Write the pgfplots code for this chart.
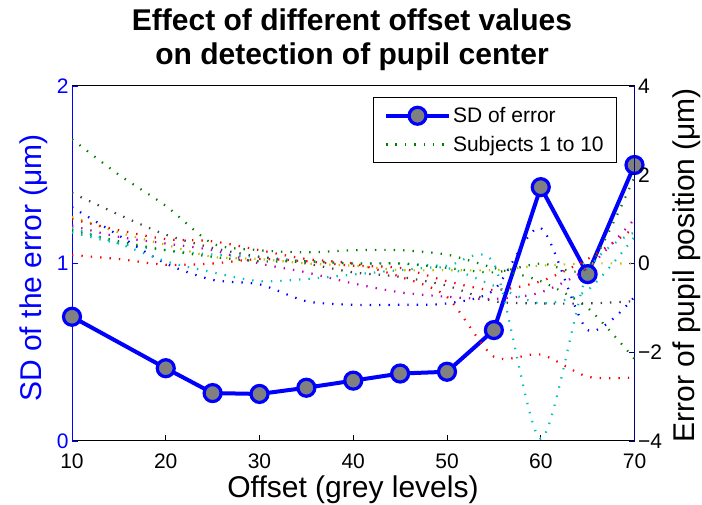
\documentclass[border=0pt]{standalone}
\usepackage{fontspec}
\setmainfont{Liberation Sans}
\usepackage{pgfplots}
\pgfplotsset{compat=1.18}

\definecolor{mgreen}{rgb}{0,0.5,0}
\definecolor{mred}{rgb}{1,0,0}
\definecolor{mcyan}{rgb}{0,0.75,0.75}
\definecolor{mmag}{rgb}{0.75,0,0.75}
\definecolor{myel}{rgb}{0.75,0.75,0}
\definecolor{mgrey}{rgb}{0.25,0.25,0.25}
\definecolor{navy}{rgb}{0,0,0.5}

\newcommand\tickfont{\fontsize{21}{25}\selectfont}
\newcommand\labfont{\fontsize{30}{36}\selectfont}
\newcommand\titfont{\fontsize{30}{36}\selectfont\bfseries}

\pgfplotsset{
  subj/.style={#1, line width=2.2pt, dash pattern=on 1.4pt off 8pt, smooth, tension=0.45, mark=none},
  sdstyle/.style={blue, line width=4pt, mark=*, mark size=8.5pt,
    mark options={fill=gray, draw=blue, line width=3.2pt, solid}},
}

\begin{document}
\begin{tikzpicture}[x=1pt,y=1pt]
\path[use as bounding box] (0,0) rectangle (702,505);

% left axis: SD of error
\begin{axis}[
  at={(72pt,64pt)}, anchor=south west,
  scale only axis, width=562.5pt, height=355pt,
  xmin=10, xmax=70, ymin=0, ymax=2,
  xtick={10,20,...,70}, ytick={0,1,2},
  tick align=inside, xtick pos=left, ytick pos=left,
  major tick length=6pt,
  separate axis lines,
  x axis line style={black, line width=1pt},
  y axis line style={blue, line width=1pt},
  x tick style={black, line width=0.8pt},
  y tick style={blue, line width=0.8pt},
  /pgf/number format/assume math mode=true,
  xticklabel style={font=\tickfont, yshift=-9pt},
  yticklabel style={font=\tickfont, text=blue},
  clip=false,
]
\addplot[sdstyle] coordinates {
  (10,0.70) (20,0.41) (25,0.27) (30,0.265) (35,0.30) (40,0.34)
  (45,0.38) (50,0.39) (55,0.625) (60,1.43) (65,0.94) (70,1.555)
};
\end{axis}

% right axis: error of pupil position, subjects
\begin{axis}[
  at={(72pt,64pt)}, anchor=south west,
  scale only axis, width=562.5pt, height=355pt,
  xmin=10, xmax=70, ymin=-4, ymax=4,
  axis x line=none, axis y line*=right,
  y axis line style={navy, line width=1pt, -},
  y tick style={navy, line width=0.8pt},
  tick align=inside, major tick length=6pt,
  ytick={-4,-2,0,2,4}, yticklabels={−4,−2,0,2,4},
  yticklabel style={font=\tickfont, text=black},
  legend image code/.code={\draw[mark repeat=2,mark phase=2,#1] plot coordinates {(0pt,0pt) (31.5pt,0pt) (63pt,0pt)};},
  legend style={at={(0.969,0.969)}, anchor=north east, draw=black, line width=0.8pt, fill=white,
    font=\tickfont, inner xsep=11pt, inner ysep=8pt, row sep=8pt,
    /tikz/every even column/.append style={column sep=7pt}},
  legend cell align=left,
]
\addlegendimage{sdstyle}
\addlegendentry{SD of error}
\addplot[subj=mgreen] coordinates {(10,2.8) (15,2.0) (20,1.3) (25,0.45) (30,0.3) (35,0.25) (40,0.3) (45,0.3) (50,0.2) (55,-0.1) (60,-0.4) (65,-1.0) (70,-2.15)};
\addlegendentry{Subjects 1 to 10}
\addplot[subj=mred, forget plot] coordinates {(10,0.19) (15,0.1) (20,-0.03) (25,0.0) (30,0.1) (35,0.05) (40,-0.05) (45,-0.1) (50,-0.4) (55,-0.6) (60,-0.4) (65,0.1) (70,0.8)};
\addplot[subj=mcyan, forget plot] coordinates {(10,0.7) (15,0.45) (20,0.3) (25,0.2) (30,0.15) (35,0.05) (40,0.0) (45,0.0) (50,-0.05) (55,0.0) (60,-3.95) (65,-0.2) (70,0.7)};
\addplot[subj=mmag, forget plot] coordinates {(10,0.85) (15,0.6) (20,0.45) (25,0.3) (30,0.0) (35,-0.2) (40,-0.45) (45,-0.65) (50,-0.75) (55,-0.8) (60,-0.65) (65,-0.1) (70,1.0)};
\addplot[subj=myel, forget plot] coordinates {(10,1.05) (15,0.7) (20,0.42) (25,0.15) (30,0.1) (35,0.0) (40,-0.05) (45,-0.15) (50,-0.15) (55,-0.15) (60,-0.05) (65,0.0) (70,0.0)};
\addplot[subj=mgrey, forget plot] coordinates {(10,1.59) (15,1.1) (20,0.65) (25,0.35) (30,0.15) (35,0.0) (40,-0.2) (45,-0.3) (50,-0.5) (55,-0.85) (60,-0.9) (65,-0.9) (70,-0.85)};
\addplot[subj=blue, forget plot] coordinates {(10,1.27) (15,0.63) (20,0.0) (25,-0.37) (30,-0.47) (35,-0.85) (40,-0.93) (45,-0.93) (50,-0.9) (55,-0.6) (60,0.8) (65,-1.5) (70,-0.75)};
\addplot[subj=mgreen, forget plot] coordinates {(10,0.75) (15,0.5) (20,0.3) (25,0.15) (30,0.05) (35,0.05) (40,0.0) (45,0.0) (50,-0.1) (55,-0.2) (60,0.0) (65,-0.1) (70,1.95)};
\addplot[subj=mred, forget plot] coordinates {(10,1.0) (15,0.75) (20,0.55) (25,0.5) (30,0.3) (35,0.1) (40,0.0) (45,-0.3) (50,-0.75) (55,-2.1) (60,-2.05) (65,-2.55) (70,-2.57)};
\addplot[subj=mcyan, forget plot] coordinates {(10,0.8) (15,0.45) (20,0.05) (25,-0.2) (30,-0.4) (35,-0.35) (40,-0.25) (45,-0.15) (50,-0.1) (55,-0.5) (60,-0.9) (65,-0.6) (70,0.6)};
\end{axis}

\node[anchor=base, font=\titfont] at (352,474) {Effect of different offset values};
\node[anchor=base, font=\titfont] at (352,440) {on detection of pupil center};
\node[anchor=base, font=\labfont] at (353,7) {Offset (grey levels)};
\node[rotate=90, anchor=base, text=blue, font=\labfont] at (42,237) {SD of the error (μm)};
\node[rotate=90, anchor=base, font=\labfont] at (694,240) {Error of pupil position (μm)};
\end{tikzpicture}
\end{document}
